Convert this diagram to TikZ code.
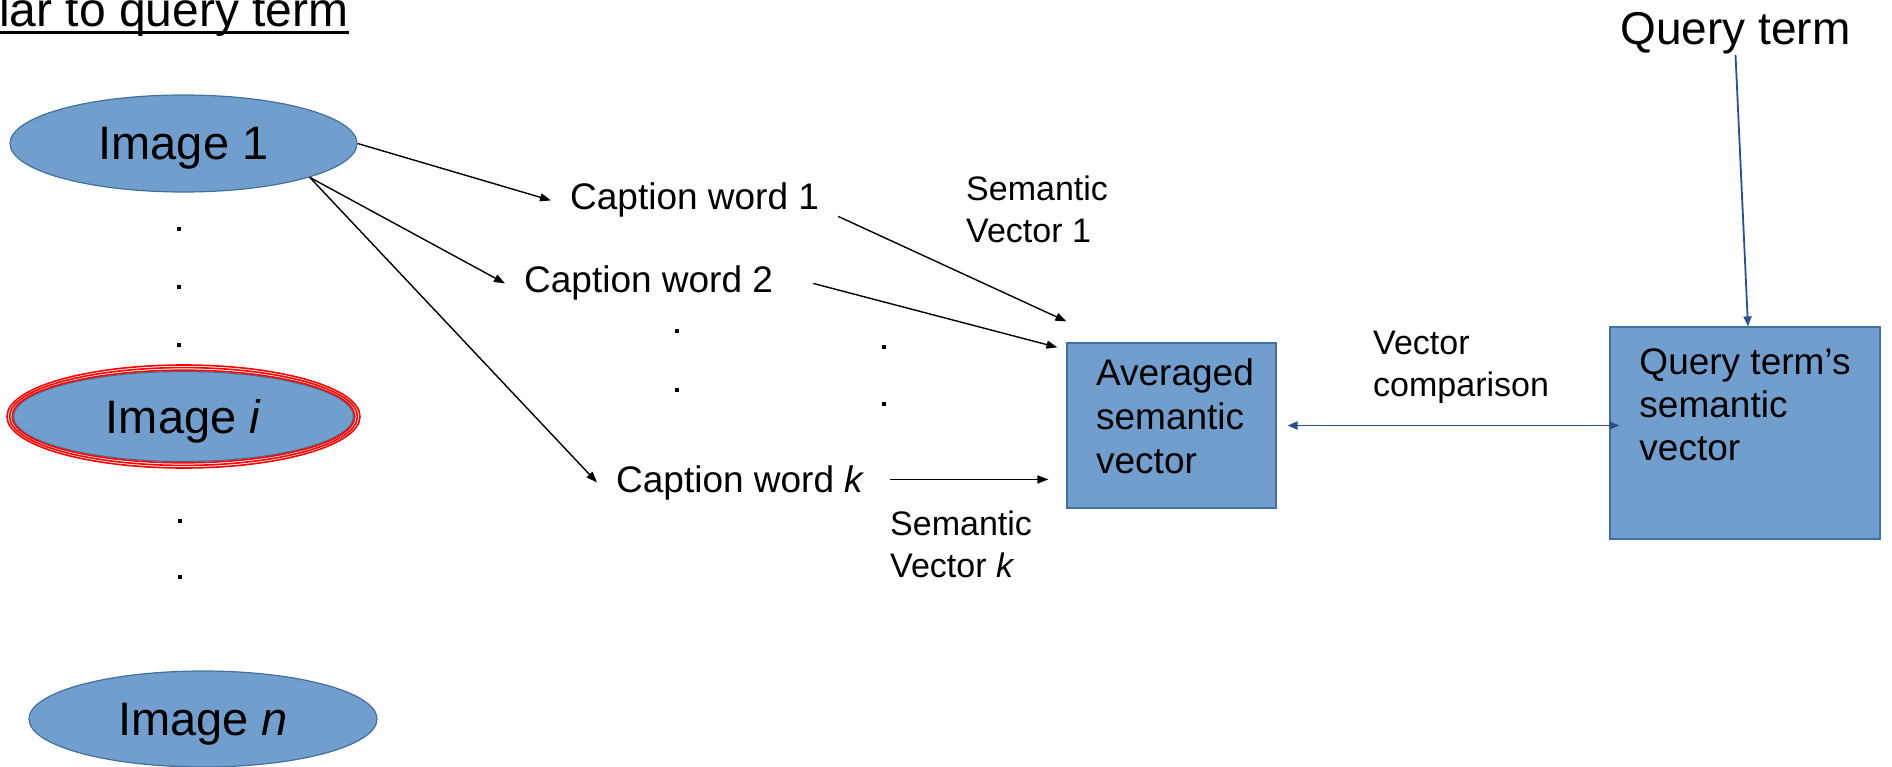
\documentclass[tikz,border=0pt]{standalone}
\usepackage{fontspec}
\setmainfont{Liberation Sans}
\usetikzlibrary{shapes.geometric,arrows.meta,calc}
\definecolor{nodefill}{RGB}{114,158,206}
\definecolor{nodeline}{RGB}{65,113,156}
\definecolor{arrowblue}{RGB}{40,80,140}
\begin{document}
\begin{tikzpicture}[x=1pt,y=-1pt,
  imgnode/.style={ellipse, fill=nodefill, draw=nodeline, line width=1.2pt,
    minimum width=347pt, minimum height=97pt, inner sep=0pt,
    font=\fontsize{47}{56}\selectfont, text depth=0pt},
  capword/.style={inner xsep=19pt, inner ysep=0pt, anchor=base west,
    font=\fontsize{37}{44}\selectfont},
  boxnode/.style={rectangle, fill=nodefill, draw=nodeline, line width=1.2pt, inner sep=0pt},
  boxtext/.style={anchor=north, align=left, inner sep=0pt},
  smalllabel/.style={anchor=north west, align=left, inner sep=0pt,
    font=\fontsize{34}{42}\selectfont},
  dotnode/.style={rectangle, fill=black, minimum size=4.5pt, inner sep=0pt},
  arr/.style={line width=1.4pt, -{Triangle[length=11pt,width=8pt]}},
  barr/.style={line width=1.8pt, draw=arrowblue},
  redring/.style={draw=red, line width=1.6pt}
]
\useasboundingbox (0,0) rectangle (1892,767);

% title
\node[anchor=base west, inner sep=0pt, font=\fontsize{48}{56}\selectfont] (title) at (-1,27) {lar to query term};
\draw[line width=3pt] ([yshift=-6pt]title.base west) -- ([yshift=-6pt]title.base east);

% image nodes
\node[imgnode] (img1) at (183.5,143.5) {Image 1};
\node[imgnode, minimum width=340pt, minimum height=90pt] (imgi) at (183.5,416.5) {Image \textit{i}};
\draw[redring] (imgi.center) ellipse [x radius=171.3pt, y radius=46.3pt];
\draw[redring] (imgi.center) ellipse [x radius=173.9pt, y radius=48.9pt];
\draw[redring] (imgi.center) ellipse [x radius=176.5pt, y radius=51.5pt];
\node[imgnode, minimum width=348pt, minimum height=96pt] (imgn) at (203,719) {Image \textit{n}};

% dots, left column
\node[dotnode] (ld1) at (179,229) {};
\node[dotnode] (ld2) at (179,287) {};
\node[dotnode] (ld3) at (179,345) {};
\node[dotnode] (ld4) at (180,521) {};
\node[dotnode] (ld5) at (180,577) {};

% caption words
\node[capword] (cw1) at (551,210) {Caption word 1};
\node[capword] (cw2) at (505,293) {Caption word 2};
\node[capword] (cwk) at (597,492) {Caption word \textit{k}};

% dots, middle
\node[dotnode] (md1) at (677,331) {};
\node[dotnode] (md2) at (677,390) {};
\node[dotnode] (md3) at (884,347) {};
\node[dotnode] (md4) at (884,404) {};

% averaged box
\node[boxnode, minimum width=209pt, minimum height=165pt] (avg) at (1171.5,425.5) {};
\node[boxtext, font=\fontsize{37}{44}\selectfont] (avgtext) at ([xshift=3.5pt,yshift=-16pt]avg.north) {Averaged\\semantic\\vector};

% query box
\node[boxnode, minimum width=270pt, minimum height=212pt] (qbox) at (1745,433) {};
\node[boxtext, font=\fontsize{37}{43}\selectfont] (qtext) at ([xshift=0pt,yshift=-22pt]qbox.north) {Query term’s\\semantic\\vector};

% query term
\node[anchor=base, inner sep=0pt, font=\fontsize{46}{54}\selectfont] (qterm) at (1735.5,45) {Query term};

% labels
\node[smalllabel] (sv1) at (966,176) {Semantic\\Vector 1};
\node[smalllabel] (svk) at (890,511) {Semantic\\Vector \textit{k}};
\node[smalllabel] (vc) at (1373,331) {Vector\\comparison};

% arrows from image 1
\draw[arr] (img1.east) -- (cw1.west);
\draw[arr] (img1.-15.6) -- (cw2.west);
\draw[arr] (img1.-15.6) -- (cwk.west);

% arrows to averaged box
\draw[arr] ([yshift=-16pt]cw1.east) -- ([yshift=21pt]avg.north west);
\draw[arr] ([xshift=21pt]cw2.east) -- ([xshift=-9pt,yshift=-5pt]avg.north west);
\draw[arr] ([xshift=6pt,yshift=3pt]cwk.east) -- ($(cwk.east -| avg.west)+(-18,-3)$);

% blue arrows
\draw[barr, -{Triangle[length=10pt,width=8pt]}, arrowblue] (qterm.south) -- ([xshift=3pt]qbox.north);
\draw[barr, {Triangle[length=10pt,width=8pt]}-{Triangle[length=10pt,width=8pt]}, arrowblue]
  ($(avg.east)+(11,0)$) -- ($(avg.east -| qbox.west)+(10,0)$);
\end{tikzpicture}
\end{document}
